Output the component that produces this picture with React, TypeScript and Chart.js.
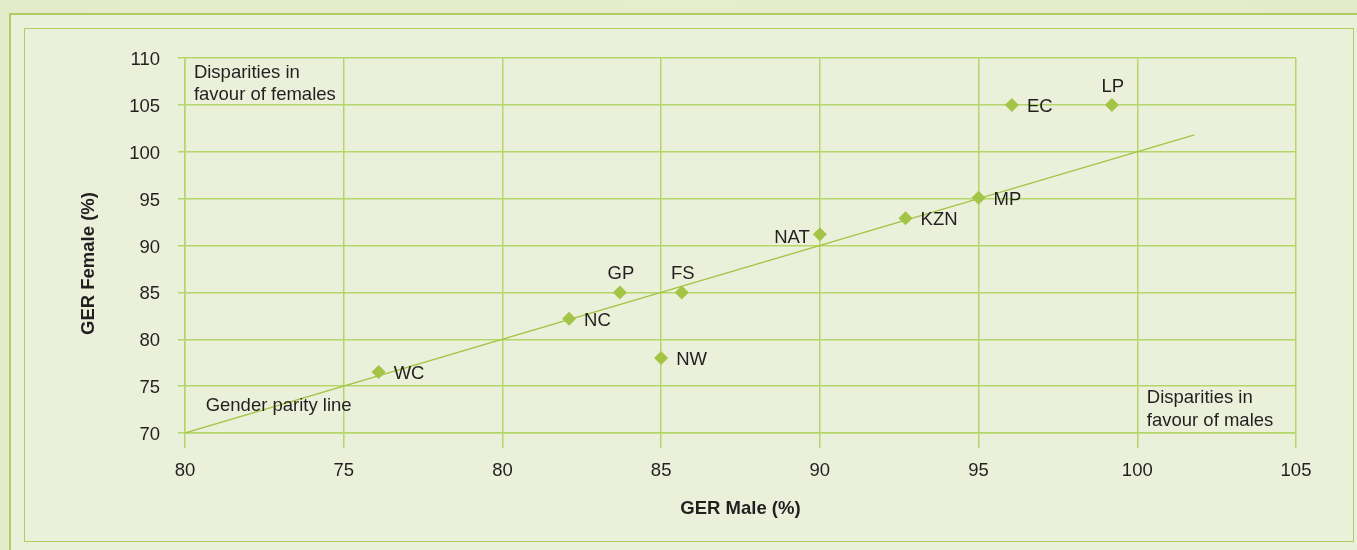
import React, { useEffect, useRef } from "react";
import { Chart, registerables } from "chart.js";

Chart.register(...registerables);

// ---------- data ----------
const regions = ["WC", "NC", "GP", "FS", "NW", "NAT", "KZN", "MP", "EC", "LP"];
const gerMale = [76.1, 82.1, 83.7, 85.65, 85.0, 90.0, 92.7, 95.0, 96.05, 99.2];
const gerFemale = [76.5, 82.2, 85.0, 85.0, 78.0, 91.2, 92.9, 95.1, 105.0, 105.0];
const labelPlacement = ["right", "right", "above", "above", "right", "left", "right", "right", "right", "above"];

const parityX = [70, 101.8];
const parityY = [70, 101.8];

const xTickLabels = ["80", "75", "80", "85", "90", "95", "100", "105"];
const yTickLabels = ["70", "75", "80", "85", "90", "95", "100", "105", "110"];

const xTitle = "GER Male (%)";
const yTitle = "GER Female (%)";

const notes = [
  { lines: ["Disparities in", "favour of females"], x: 70.28, y: 108.45 },
  { lines: ["Disparities in", "favour of males"], x: 100.3, y: 73.7 },
  { lines: ["Gender parity line"], x: 70.65, y: 72.85 },
];

// ---------- style ----------
const FONT = "'Liberation Sans', Arial, Helvetica, sans-serif";
const TEXT = "#231F20";
const GRID = "#B6D66A";
const MARK = "#A3C445";
const OUTER_BG = "#E4EBCA";
const INNER_BG = "#EBF0DA";
const BORDER = "#B0CD62";
const FS = 18.5;

const labelPlugin = {
  id: "customText",
  afterDatasetsDraw(chart: any) {
    const ctx = chart.ctx;
    const xs = chart.scales.x;
    const ys = chart.scales.y;
    ctx.save();
    ctx.fillStyle = TEXT;
    ctx.font = `${FS}px ${FONT}`;
    ctx.textBaseline = "middle";
    regions.forEach((name, i) => {
      const px = xs.getPixelForValue(gerMale[i]);
      const py = ys.getPixelForValue(gerFemale[i]);
      const p = labelPlacement[i];
      if (p === "right") {
        ctx.textAlign = "left";
        ctx.fillText(name, px + 15, py + 2);
      } else if (p === "left") {
        ctx.textAlign = "right";
        ctx.fillText(name, px - 10, py + 4);
      } else {
        ctx.textAlign = "center";
        ctx.fillText(name, px + 1, py - 18);
      }
    });
    notes.forEach((n) => {
      const px = xs.getPixelForValue(n.x);
      const py = ys.getPixelForValue(n.y);
      ctx.textAlign = "left";
      n.lines.forEach((l, k) => ctx.fillText(l, px, py + k * 22.5));
    });
    // axis titles
    const ca = chart.chartArea;
    ctx.font = `bold ${FS}px ${FONT}`;
    ctx.textAlign = "center";
    ctx.fillText(xTitle, (ca.left + ca.right) / 2, 509);
    ctx.save();
    ctx.translate(89, (ca.top + ca.bottom) / 2 + 18);
    ctx.rotate(-Math.PI / 2);
    ctx.fillText(yTitle, 0, 0);
    ctx.restore();
    ctx.restore();
  },
};

export default function App() {
  const ref = useRef<HTMLCanvasElement | null>(null);

  useEffect(() => {
    if (!ref.current) return;
    const chart = new Chart(ref.current, {
      type: "scatter",
      data: {
        datasets: [
          {
            type: "line",
            label: "Gender parity line",
            data: parityX.map((x, i) => ({ x, y: parityY[i] })),
            borderColor: MARK,
            borderWidth: 1.3,
            pointRadius: 0,
            fill: false,
          } as any,
          {
            label: "GER",
            data: gerMale.map((x, i) => ({ x, y: gerFemale[i] })),
            pointStyle: "rectRot",
            pointRadius: 7,
            pointBackgroundColor: MARK,
            pointBorderColor: MARK,
            pointBorderWidth: 0,
            backgroundColor: MARK,
            borderColor: MARK,
          },
        ],
      },
      options: {
        animation: false,
        responsive: false,
        maintainAspectRatio: false,
        layout: { padding: { left: 0, top: 58, right: 61, bottom: 0 } },
        plugins: { legend: { display: false }, tooltip: { enabled: false } },
        scales: {
          x: {
            type: "linear",
            min: 70,
            max: 105,
            afterFit: (s: any) => {
              s.height = 117;
            },
            ticks: {
              stepSize: 5,
              color: TEXT,
              font: { family: FONT, size: FS },
              padding: 12,
              maxRotation: 0,
              callback: (_v: any, idx: number) => xTickLabels[idx] ?? "",
            },
            grid: { color: GRID, lineWidth: 1.5, tickLength: 15, drawTicks: true },
            border: { color: GRID, width: 1.5 },
          },
          y: {
            type: "linear",
            min: 70,
            max: 110,
            afterFit: (s: any) => {
              s.width = 185;
            },
            ticks: {
              stepSize: 5,
              color: TEXT,
              font: { family: FONT, size: FS },
              padding: 18,
              labelOffset: 2,
              callback: (_v: any, idx: number) => yTickLabels[idx] ?? "",
            },
            grid: { color: GRID, lineWidth: 1.5, tickLength: 7, drawTicks: true },
            border: { color: GRID, width: 1.5 },
          },
        },
      },
      plugins: [labelPlugin],
    });
    return () => chart.destroy();
  }, []);

  return (
    <div
      style={{
        position: "absolute",
        left: 0,
        top: 0,
        width: 1357,
        height: 550,
        overflow: "hidden",
        background: `linear-gradient(90deg, ${OUTER_BG}, #E6EDCD 50%, ${OUTER_BG})`,
      }}
    >
      <div
        style={{
          position: "absolute",
          left: 9,
          top: 13,
          width: 1400,
          height: 600,
          borderLeft: `2px solid ${BORDER}`,
          borderTop: `2px solid ${BORDER}`,
          background: INNER_BG,
        }}
      />
      <div
        style={{
          position: "absolute",
          left: 24,
          top: 28,
          width: 1328,
          height: 512,
          border: `1.5px solid ${BORDER}`,
        }}
      />
      <canvas
        ref={ref}
        width={1357}
        height={550}
        style={{ position: "absolute", left: 0, top: 0, width: 1357, height: 550, display: "block" }}
      />
    </div>
  );
}
